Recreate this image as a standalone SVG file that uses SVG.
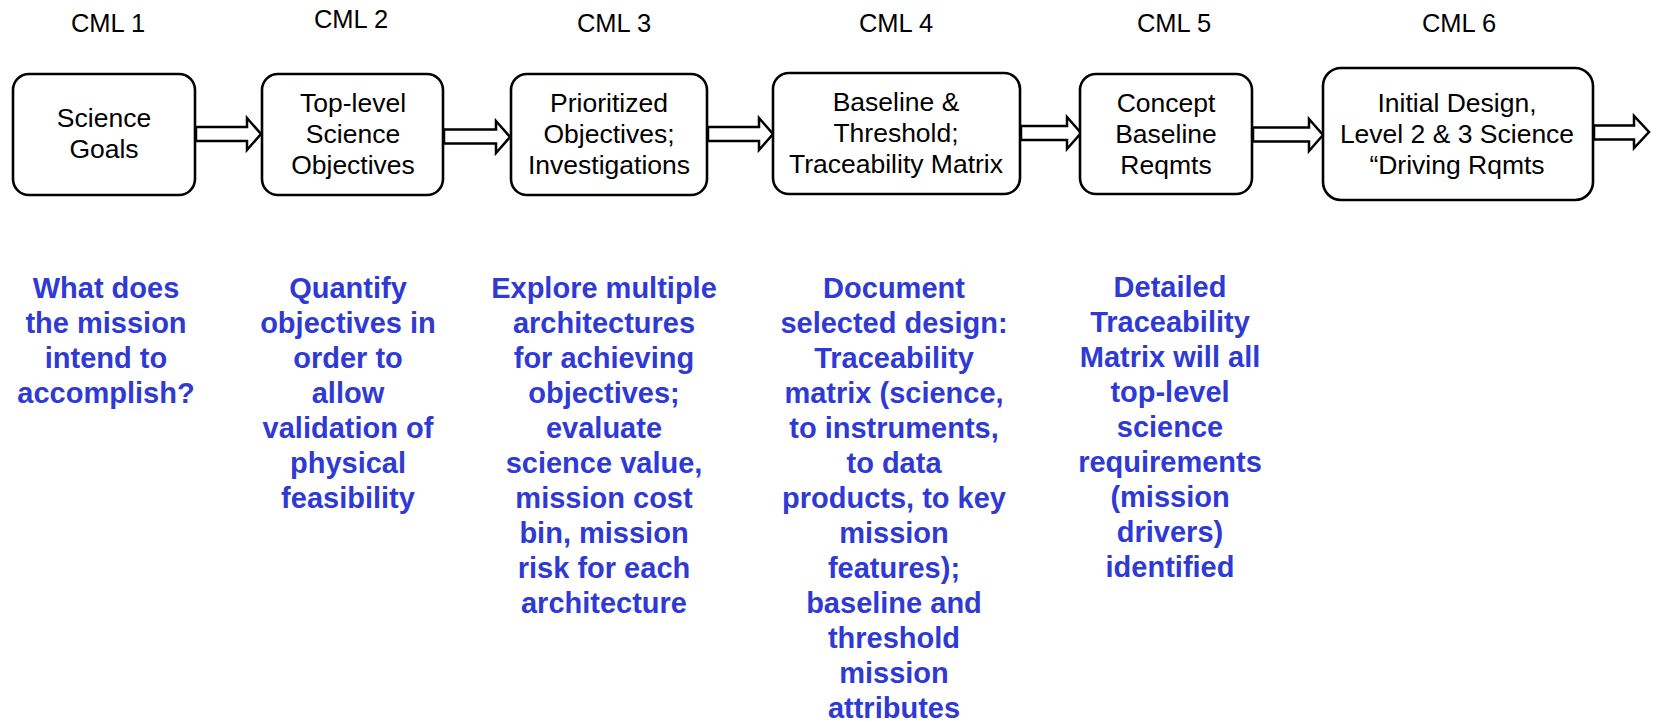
<svg xmlns="http://www.w3.org/2000/svg" width="1656" height="722" viewBox="0 0 1656 722">
<style>
.box{fill:#fff;stroke:#000;stroke-width:2.6}
.arr{fill:#fff;stroke:#000;stroke-width:2.5;stroke-linejoin:miter}
.cml{font-family:"Liberation Sans",Arial,sans-serif;font-size:25.5px;fill:#000;text-anchor:middle}
.bt{font-family:"Liberation Sans",Arial,sans-serif;font-size:26.5px;fill:#000;text-anchor:middle}
.desc{font-family:"Liberation Sans",Arial,sans-serif;font-size:29px;font-weight:bold;fill:#2F3AD5;text-anchor:middle}
</style>
<rect width="1656" height="722" fill="#fff"/>
<g id="cml-labels">
<text class="cml" x="108" y="32">CML 1</text>
<text class="cml" x="351" y="28">CML 2</text>
<text class="cml" x="614" y="32">CML 3</text>
<text class="cml" x="896" y="32">CML 4</text>
<text class="cml" x="1174" y="32">CML 5</text>
<text class="cml" x="1459" y="32">CML 6</text>
</g>
<g id="connectors">
<path class="arr" d="M196,127 H247 V118 L261,134 L247,150 V141 H196 Z"/>
<path class="arr" d="M444,129.5 H496 V121 L510,137 L496,153 V143.5 H444 Z"/>
<path class="arr" d="M708,127 H759 V118 L773,134 L759,150 V141 H708 Z"/>
<path class="arr" d="M1021,126 H1067 V117 L1081,133 L1067,149 V140 H1021 Z"/>
<path class="arr" d="M1253,127.5 H1309 V119 L1323,135 L1309,151 V141.5 H1253 Z"/>
<path class="arr" d="M1594,125.5 H1634 V116 L1649,132 L1634,148 V139.5 H1594 Z"/>
</g>
<g id="node1">
<rect class="box" x="13" y="74" width="182" height="121" rx="16"/>
<text class="bt" x="104" y="127">Science</text>
<text class="bt" x="104" y="158">Goals</text>
</g>
<g id="node2">
<rect class="box" x="262" y="74" width="181" height="121" rx="16"/>
<text class="bt" x="353" y="112">Top-level</text>
<text class="bt" x="353" y="143">Science</text>
<text class="bt" x="353" y="174">Objectives</text>
</g>
<g id="node3">
<rect class="box" x="511" y="74" width="196" height="121" rx="16"/>
<text class="bt" x="609" y="112">Prioritized</text>
<text class="bt" x="609" y="143">Objectives;</text>
<text class="bt" x="609" y="174">Investigations</text>
</g>
<g id="node4">
<rect class="box" x="773" y="73" width="247" height="121" rx="16"/>
<text class="bt" x="896" y="111">Baseline &amp;</text>
<text class="bt" x="896" y="142">Threshold;</text>
<text class="bt" x="896" y="173">Traceability Matrix</text>
</g>
<g id="node5">
<rect class="box" x="1080" y="74" width="172" height="120" rx="16"/>
<text class="bt" x="1166" y="112">Concept</text>
<text class="bt" x="1166" y="143">Baseline</text>
<text class="bt" x="1166" y="174">Reqmts</text>
</g>
<g id="node6">
<rect class="box" x="1323" y="68" width="270" height="132" rx="18"/>
<text class="bt" x="1457" y="112">Initial Design,</text>
<text class="bt" x="1457" y="143">Level 2 &amp; 3 Science</text>
<text class="bt" x="1457" y="174">“Driving Rqmts</text>
</g>
<g id="desc1">
<text class="desc" x="106" y="298">What does<tspan x="106" dy="35">the mission</tspan><tspan x="106" dy="35">intend to</tspan><tspan x="106" dy="35">accomplish?</tspan></text>
</g>
<g id="desc2">
<text class="desc" x="348" y="298">Quantify<tspan x="348" dy="35">objectives in</tspan><tspan x="348" dy="35">order to</tspan><tspan x="348" dy="35">allow</tspan><tspan x="348" dy="35">validation of</tspan><tspan x="348" dy="35">physical</tspan><tspan x="348" dy="35">feasibility</tspan></text>
</g>
<g id="desc3">
<text class="desc" x="604" y="298">Explore multiple<tspan x="604" dy="35">architectures</tspan><tspan x="604" dy="35">for achieving</tspan><tspan x="604" dy="35">objectives;</tspan><tspan x="604" dy="35">evaluate</tspan><tspan x="604" dy="35">science value,</tspan><tspan x="604" dy="35">mission cost</tspan><tspan x="604" dy="35">bin, mission</tspan><tspan x="604" dy="35">risk for each</tspan><tspan x="604" dy="35">architecture</tspan></text>
</g>
<g id="desc4">
<text class="desc" x="894" y="298">Document<tspan x="894" dy="35">selected design:</tspan><tspan x="894" dy="35">Traceability</tspan><tspan x="894" dy="35">matrix (science,</tspan><tspan x="894" dy="35">to instruments,</tspan><tspan x="894" dy="35">to data</tspan><tspan x="894" dy="35">products, to key</tspan><tspan x="894" dy="35">mission</tspan><tspan x="894" dy="35">features);</tspan><tspan x="894" dy="35">baseline and</tspan><tspan x="894" dy="35">threshold</tspan><tspan x="894" dy="35">mission</tspan><tspan x="894" dy="35">attributes</tspan></text>
</g>
<g id="desc5">
<text class="desc" x="1170" y="297">Detailed<tspan x="1170" dy="35">Traceability</tspan><tspan x="1170" dy="35">Matrix will all</tspan><tspan x="1170" dy="35">top-level</tspan><tspan x="1170" dy="35">science</tspan><tspan x="1170" dy="35">requirements</tspan><tspan x="1170" dy="35">(mission</tspan><tspan x="1170" dy="35">drivers)</tspan><tspan x="1170" dy="35">identified</tspan></text>
</g>
</svg>
